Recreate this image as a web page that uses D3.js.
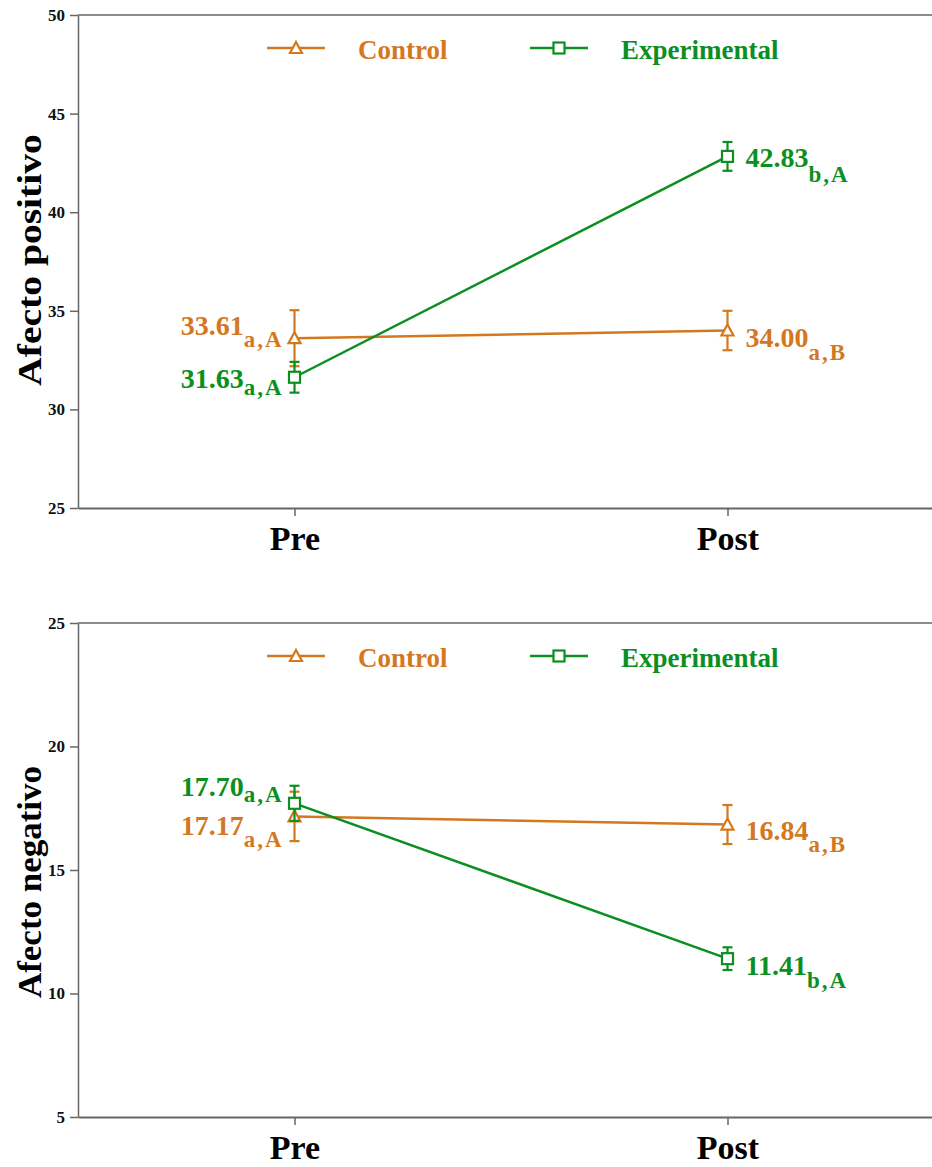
<!DOCTYPE html>
<html>
<head>
<meta charset="utf-8">
<script src="https://cdn.jsdelivr.net/npm/d3@7"></script>
<style>
  body { margin: 0; background: #fff; }
  text { font-family: "Liberation Serif", "Times New Roman", serif; font-weight: bold; }
</style>
</head>
<body>
<div id="chart"></div>
<script>
// data
var phases = ["Pre", "Post"];
var groups = ["Control", "Experimental"];

var positivoControl = [33.61, 34.00];
var positivoControlErr = [1.42, 1.00];
var positivoControlSub = ["a,A", "a,B"];
var positivoExp = [31.63, 42.83];
var positivoExpErr = [0.78, 0.73];
var positivoExpSub = ["a,A", "b,A"];

var negativoControl = [17.17, 16.84];
var negativoControlErr = [1.00, 0.79];
var negativoControlSub = ["a,A", "a,B"];
var negativoExp = [17.70, 11.41];
var negativoExpErr = [0.71, 0.46];
var negativoExpSub = ["a,A", "b,A"];

var positivoTicks = [25, 30, 35, 40, 45, 50];
var negativoTicks = [5, 10, 15, 20, 25];

var orange = "#d4781f", green = "#0b8f20", axisCol = "#666";

var width = 932, height = 1167;
var svg = d3.select("#chart").append("svg")
    .attr("width", width)
    .attr("height", height);

// label baseline offsets (px from the point) and subscript shift, per panel / group / phase
var labelDy = {
  positivo: {Control: [-3, 16], Experimental: [11, 11]},
  negativo: {Control: [19, 15], Experimental: [-7, 16]}
};
var subDy = {
  positivo: {Control: [12, 13], Experimental: [7, 15]},
  negativo: {Control: [12, 12], Experimental: [6, 13]}
};

var panels = [
  {key: "positivo", title: "Afecto positivo", top: 15, bottom: 508, domain: [25, 50], ticks: positivoTicks,
   titleY: 260, titleStretch: 1.2,
   series: [
     {name: "Control", values: positivoControl, err: positivoControlErr, sub: positivoControlSub, color: orange, shape: "tri"},
     {name: "Experimental", values: positivoExp, err: positivoExpErr, sub: positivoExpSub, color: green, shape: "sq"}
   ]},
  {key: "negativo", title: "Afecto negativo", top: 623, bottom: 1117, domain: [5, 25], ticks: negativoTicks,
   titleY: 882, titleStretch: 1.06,
   series: [
     {name: "Control", values: negativoControl, err: negativoControlErr, sub: negativoControlSub, color: orange, shape: "tri"},
     {name: "Experimental", values: negativoExp, err: negativoExpErr, sub: negativoExpSub, color: green, shape: "sq"}
   ]}
];

var left = 78;
var x = d3.scalePoint()
  .domain(phases)
  .range([left, 944])
  .padding(0.5);

function drawMarker(g, shape, cx, cy, color) {
  if (shape == "tri") {
    g.append("path")
      .attr("d", "M" + cx + "," + (cy - 6) + "L" + (cx + 6) + "," + (cy + 5) + "L" + (cx - 6) + "," + (cy + 5) + "Z")
      .attr("fill", "#fff")
      .attr("stroke", color)
      .attr("stroke-width", 2.2);
  } else {
    g.append("rect")
      .attr("x", cx - 5.5).attr("y", cy - 5.5)
      .attr("width", 11).attr("height", 11)
      .attr("fill", "#fff")
      .attr("stroke", color)
      .attr("stroke-width", 2.2);
  }
}

panels.forEach(function(p) {
  var y = d3.scaleLinear()
    .domain(p.domain)
    .range([p.bottom, p.top]);

  var g = svg.append("g");

  // top frame line
  g.append("line")
    .attr("x1", left).attr("x2", width)
    .attr("y1", p.top).attr("y2", p.top)
    .attr("stroke", axisCol).attr("stroke-width", 1.5);

  // y axis
  var yAxis = g.append("g")
    .attr("transform", "translate(" + left + ",0)")
    .call(d3.axisLeft(y).tickValues(p.ticks).tickSize(8).tickPadding(5).tickSizeOuter(0));
  yAxis.select(".domain").attr("stroke", axisCol).attr("stroke-width", 1.5);
  yAxis.selectAll(".tick line").attr("stroke", axisCol).attr("stroke-width", 1.5);
  yAxis.selectAll(".tick text")
    .attr("font-size", 17)
    .attr("fill", "#111");

  // x axis
  var xAxis = g.append("g")
    .attr("transform", "translate(0," + p.bottom + ")")
    .call(d3.axisBottom(x).tickSize(8).tickPadding(10).tickSizeOuter(0));
  xAxis.select(".domain").attr("stroke", axisCol).attr("stroke-width", 2);
  xAxis.selectAll(".tick line").attr("stroke", axisCol).attr("stroke-width", 1.5);
  xAxis.selectAll(".tick text")
    .attr("font-size", 34)
    .attr("fill", "#000")
    .attr("dy", "0.72em");

  // y title
  g.append("text")
    .attr("transform", "translate(41," + p.titleY + ") rotate(-90) scale(" + p.titleStretch + ",1)")
    .attr("text-anchor", "middle")
    .attr("font-size", 33)
    .attr("fill", "#000")
    .text(p.title);

  // legend
  var ly = p.top + 33;
  var legendPos = [{x0: 267, x1: 325, tx: 358}, {x0: 530, x1: 588, tx: 621}];
  p.series.forEach(function(s, i) {
    var lp = legendPos[i];
    g.append("line")
      .attr("x1", lp.x0).attr("x2", lp.x1)
      .attr("y1", ly).attr("y2", ly)
      .attr("stroke", s.color).attr("stroke-width", 2.5);
    drawMarker(g, s.shape, (lp.x0 + lp.x1) / 2, ly, s.color);
    g.append("text")
      .attr("x", lp.tx).attr("y", ly + 11)
      .attr("font-size", 27)
      .attr("fill", s.color)
      .text(s.name);
  });

  // series lines + error bars + markers
  p.series.forEach(function(s) {
    var pts = phases.map(function(ph, i) { return {ph: ph, v: s.values[i], e: s.err[i], sub: s.sub[i], i: i}; });

    g.append("path")
      .datum(pts)
      .attr("fill", "none")
      .attr("stroke", s.color)
      .attr("stroke-width", 2.5)
      .attr("d", d3.line().x(function(d) { return x(d.ph); }).y(function(d) { return y(d.v); }));

    pts.forEach(function(d) {
      var cx = x(d.ph);
      g.append("line")
        .attr("x1", cx).attr("x2", cx)
        .attr("y1", y(d.v - d.e)).attr("y2", y(d.v + d.e))
        .attr("stroke", s.color).attr("stroke-width", 2.2);
      [d.v - d.e, d.v + d.e].forEach(function(c) {
        g.append("line")
          .attr("x1", cx - 5).attr("x2", cx + 5)
          .attr("y1", y(c)).attr("y2", y(c))
          .attr("stroke", s.color).attr("stroke-width", 2.2);
      });
      drawMarker(g, s.shape, cx, y(d.v), s.color);

      // value label with subscript
      var pre = d.i == 0;
      var t = g.append("text")
        .attr("x", pre ? cx - 11 : cx + 18)
        .attr("y", y(d.v) + labelDy[p.key][s.name][d.i])
        .attr("text-anchor", pre ? "end" : "start")
        .attr("fill", s.color);
      t.append("tspan")
        .attr("font-size", 28)
        .text(d3.format(".2f")(d.v));
      t.append("tspan")
        .attr("font-size", 23)
        .attr("dy", subDy[p.key][s.name][d.i])
        .attr("letter-spacing", 2)
        .text(d.sub);
    });
  });
});
</script>
</body>
</html>
